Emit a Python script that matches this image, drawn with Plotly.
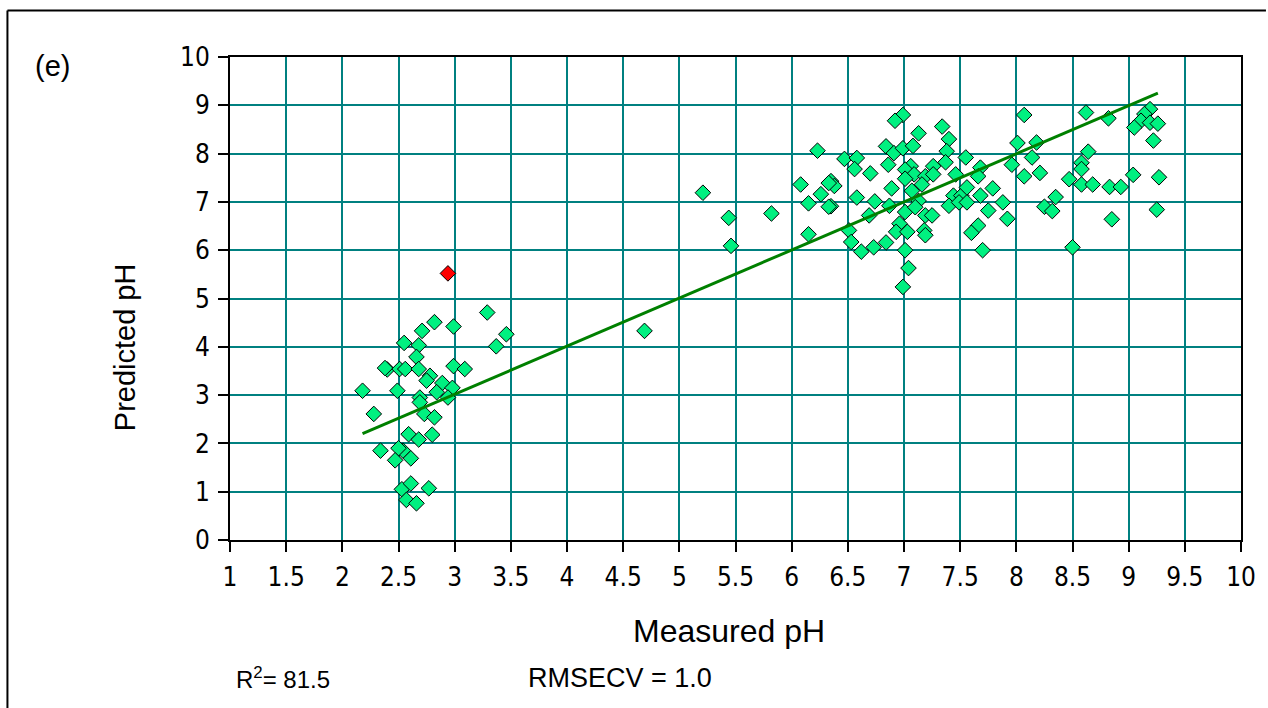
import plotly.graph_objects as go

# Measured vs predicted pH (green points)
measured = [
    3.29, 2.82, 2.99, 2.71, 2.55, 2.68, 3.46, 3.37, 2.66, 2.40, 2.38, 2.51, 2.56, 2.68,
    2.78, 2.75, 2.99, 3.09, 2.89, 2.98, 2.84, 2.18, 2.49, 2.69, 2.94, 2.69, 2.28, 2.73,
    2.82, 2.59, 2.68, 2.80, 2.34, 2.54, 2.50, 2.47, 2.61, 2.53, 2.61, 2.77, 2.57, 2.66,
    5.21, 5.44, 5.46, 5.82, 4.69,
    6.99, 6.92, 7.34, 7.13, 7.40, 6.23, 6.84, 6.91, 6.99, 7.08, 7.38, 6.47, 6.58, 6.86,
    6.56, 6.70, 7.06, 7.01, 7.09, 7.19, 7.26, 7.26, 7.37, 7.46, 7.55, 7.68, 7.66, 8.01,
    7.96, 8.07, 8.07, 6.08, 6.35, 6.38, 6.26, 6.15, 6.35, 6.58, 6.74, 6.89, 7.01, 7.07,
    7.16, 7.13, 6.87, 6.69, 7.01, 7.10, 7.19, 7.25, 6.96, 6.93, 7.03, 7.18, 7.19, 7.44,
    7.51, 7.40, 7.49, 7.56, 7.56, 7.68, 7.79, 7.88, 7.75, 7.92, 7.66, 7.60, 7.70, 6.15,
    6.51, 6.53, 6.62, 6.73, 6.84, 7.01, 7.04, 6.99, 6.33, 6.33,
    8.62, 8.82, 9.19, 9.14, 9.11, 9.05, 9.19, 9.26, 9.22, 8.18, 8.14, 8.21, 8.64, 8.58,
    8.58, 8.47, 8.58, 8.68, 8.83, 8.93, 9.04, 9.27, 8.35, 8.25, 8.32, 8.85, 9.25, 8.50,
]
predicted = [
    4.71, 4.51, 4.42, 4.33, 4.08, 4.03, 4.26, 4.01, 3.79, 3.53, 3.56, 3.54, 3.54, 3.54,
    3.40, 3.30, 3.60, 3.54, 3.25, 3.15, 3.06, 3.09, 3.09, 2.95, 2.95, 2.85, 2.61, 2.61,
    2.54, 2.19, 2.08, 2.18, 1.85, 1.85, 1.90, 1.65, 1.69, 1.05, 1.17, 1.07, 0.83, 0.76,
    7.19, 6.67, 6.09, 6.76, 4.33,
    8.80, 8.68, 8.56, 8.42, 8.30, 8.06, 8.15, 8.01, 8.11, 8.16, 8.05, 7.89, 7.91, 7.77,
    7.68, 7.59, 7.74, 7.67, 7.57, 7.53, 7.74, 7.57, 7.82, 7.57, 7.92, 7.71, 7.53, 8.22,
    7.77, 7.53, 8.80, 7.36, 7.43, 7.33, 7.16, 6.97, 6.91, 7.09, 7.01, 7.28, 7.48, 7.23,
    7.36, 7.02, 6.92, 6.72, 6.79, 6.89, 6.72, 6.72, 6.55, 6.38, 6.38, 6.41, 6.31, 7.13,
    7.13, 6.92, 6.99, 6.99, 7.30, 7.13, 7.28, 6.99, 6.82, 6.65, 6.51, 6.36, 6.00, 6.33,
    6.41, 6.17, 5.97, 6.06, 6.16, 6.00, 5.63, 5.24, 7.39, 6.90,
    8.85, 8.73, 8.92, 8.82, 8.68, 8.54, 8.64, 8.62, 8.27, 8.23, 7.92, 7.60, 8.04, 7.81,
    7.68, 7.47, 7.36, 7.36, 7.31, 7.31, 7.56, 7.51, 7.10, 6.90, 6.81, 6.64, 6.84, 6.06,
]

# Highlighted (red) point
outlier_measured = [2.94]
outlier_predicted = [5.52]

# Fitted regression line endpoints
fit_x = [2.18, 9.26]
fit_y = [2.20, 9.25]

x_ticks = [1, 1.5, 2, 2.5, 3, 3.5, 4, 4.5, 5, 5.5, 6, 6.5, 7, 7.5, 8, 8.5, 9, 9.5, 10]
y_ticks = [0, 1, 2, 3, 4, 5, 6, 7, 8, 9, 10]

FONT = "Liberation Sans, Arial, sans-serif"
TICKFONT = "Liberation Sans Narrow, Arial Narrow, DejaVu Sans Condensed, sans-serif"

fig = go.Figure()
fig.add_trace(go.Scatter(
    x=measured, y=predicted, mode="markers",
    marker=dict(symbol="diamond", size=12, color="#00F080",
                line=dict(color="#000000", width=1)),
    showlegend=False, hoverinfo="x+y"))
fig.add_trace(go.Scatter(
    x=outlier_measured, y=outlier_predicted, mode="markers",
    marker=dict(symbol="diamond", size=12, color="#FF0000",
                line=dict(color="#000000", width=1)),
    showlegend=False))
fig.add_trace(go.Scatter(
    x=fit_x, y=fit_y, mode="lines",
    line=dict(color="#008000", width=3),
    showlegend=False, hoverinfo="skip"))

L, R, T, B = 230, 25, 57, 168
W, H = 1268, 708
pw, ph = W - L - R, H - T - B

def px(xp):
    return (xp - L) / pw

def py(yp):
    return (H - B - yp) / ph

axis_common = dict(
    showgrid=True, gridcolor="#008080", gridwidth=2,
    showline=True, linecolor="#000000", linewidth=2, mirror=True,
    ticks="outside", ticklen=10, tickcolor="#000000", tickwidth=1.5,
    zeroline=False, tickfont=dict(size=26, family=TICKFONT, color="#000000"),
)

fig.update_layout(
    width=W, height=H,
    margin=dict(l=L, r=R, t=T, b=B),
    paper_bgcolor="white", plot_bgcolor="white",
    font=dict(family=FONT, color="#000000", size=19),
    xaxis=dict(range=[1, 10], tickvals=x_ticks, ticktext=[f"{v:g}" for v in x_ticks],
               ticklabelstandoff=3, **axis_common),
    yaxis=dict(range=[0, 10], tickvals=y_ticks, ticklabelstandoff=3, **axis_common),
    shapes=[
        dict(type="line", xref="paper", yref="paper", x0=px(7), x1=px(1268),
             y0=py(10.5), y1=py(10.5), line=dict(color="#000000", width=2)),
        dict(type="line", xref="paper", yref="paper", x0=px(7), x1=px(7),
             y0=py(10.5), y1=py(708), line=dict(color="#000000", width=2)),
    ],
    annotations=[
        dict(text="(e)", xref="paper", yref="paper", x=px(52), y=py(66),
             xanchor="center", yanchor="middle", showarrow=False,
             font=dict(size=29, family=FONT)),
        dict(text="Predicted pH", xref="paper", yref="paper", x=px(125), y=py(347),
             xanchor="center", yanchor="middle", textangle=-90, showarrow=False,
             font=dict(size=29, family=FONT)),
        dict(text="Measured pH", xref="paper", yref="paper", x=px(730), y=py(631),
             xanchor="center", yanchor="middle", showarrow=False,
             font=dict(size=32, family=FONT)),
        dict(text="R<sup>2</sup>= 81.5", xref="paper", yref="paper", x=px(234), y=py(678),
             xanchor="left", yanchor="middle", showarrow=False,
             font=dict(size=24, family=FONT)),
        dict(text="RMSECV = 1.0", xref="paper", yref="paper", x=px(527), y=py(678),
             xanchor="left", yanchor="middle", showarrow=False,
             font=dict(size=27, family=FONT)),
    ],
)

fig.write_html("out.html")
